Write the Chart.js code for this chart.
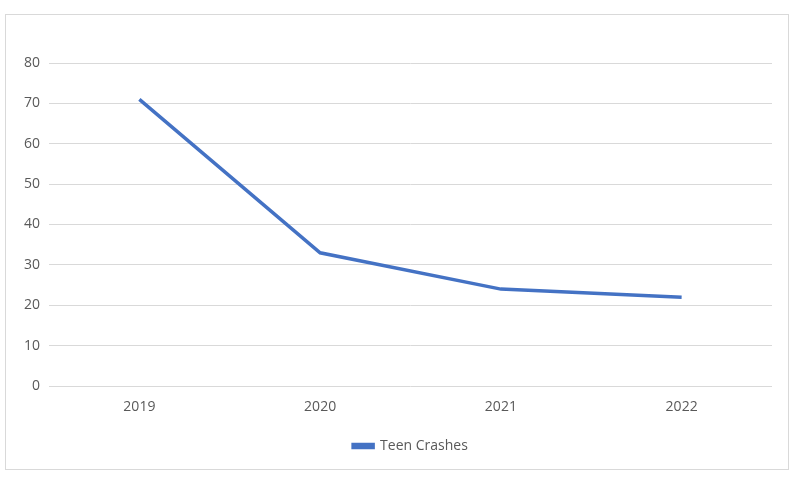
<!DOCTYPE html>
<html>
<head>
<meta charset="utf-8">
<script src="https://cdn.jsdelivr.net/npm/chart.js@4"></script>
<style>
html,body{margin:0;padding:0;background:#fff;}
#wrap{position:relative;width:802px;height:481px;}
</style>
</head>
<body>
<div id="wrap"><canvas id="c" width="802" height="481"></canvas></div>
<script>
const categories = ["2019", "2020", "2021", "2022"];
const teenCrashes = [71, 33, 24, 22];
const seriesName = "Teen Crashes";

const borderPlugin = {
  id: 'outerBorder',
  beforeDraw(chart) {
    const ctx = chart.ctx;
    ctx.save();
    ctx.fillStyle = '#fff';
    ctx.fillRect(0, 0, chart.width, chart.height);
    ctx.strokeStyle = '#d9d9d9';
    ctx.lineWidth = 1;
    ctx.strokeRect(5.5, 14.5, 783, 455);
    ctx.restore();
  }
};

const FONT = { family: 'Open Sans', size: 14 };

new Chart(document.getElementById('c'), {
  type: 'line',
  data: {
    labels: categories,
    datasets: [{
      label: seriesName,
      data: teenCrashes,
      borderColor: '#4472C4',
      backgroundColor: '#4472C4',
      borderWidth: 3.5,
      pointRadius: 0,
      pointHoverRadius: 0,
      tension: 0,
      fill: false
    }]
  },
  options: {
    responsive: false,
    animation: false,
    devicePixelRatio: 1,
    layout: { padding: { top: 63, right: 30, bottom: 18, left: 0 } },
    plugins: {
      tooltip: { enabled: false },
      legend: {
        display: true,
        position: 'bottom',
        fullSize: false,
        labels: {
          boxWidth: 20,
          boxHeight: 3,
          padding: 13,
          color: '#595959',
          font: FONT
        }
      }
    },
    scales: {
      x: {
        offset: true,
        grid: { display: false, drawTicks: false },
        border: { display: false },
        ticks: { color: '#595959', padding: 13, font: FONT },
        afterFit(s) { s.height = 40; }
      },
      y: {
        min: 0,
        max: 80,
        ticks: { stepSize: 10, color: '#595959', padding: 9, font: FONT },
        grid: { color: '#d9d9d9', lineWidth: 1, drawTicks: false },
        border: { display: false },
        afterFit(s) { s.width = 49; }
      }
    }
  },
  plugins: [borderPlugin]
});
</script>
</body>
</html>
